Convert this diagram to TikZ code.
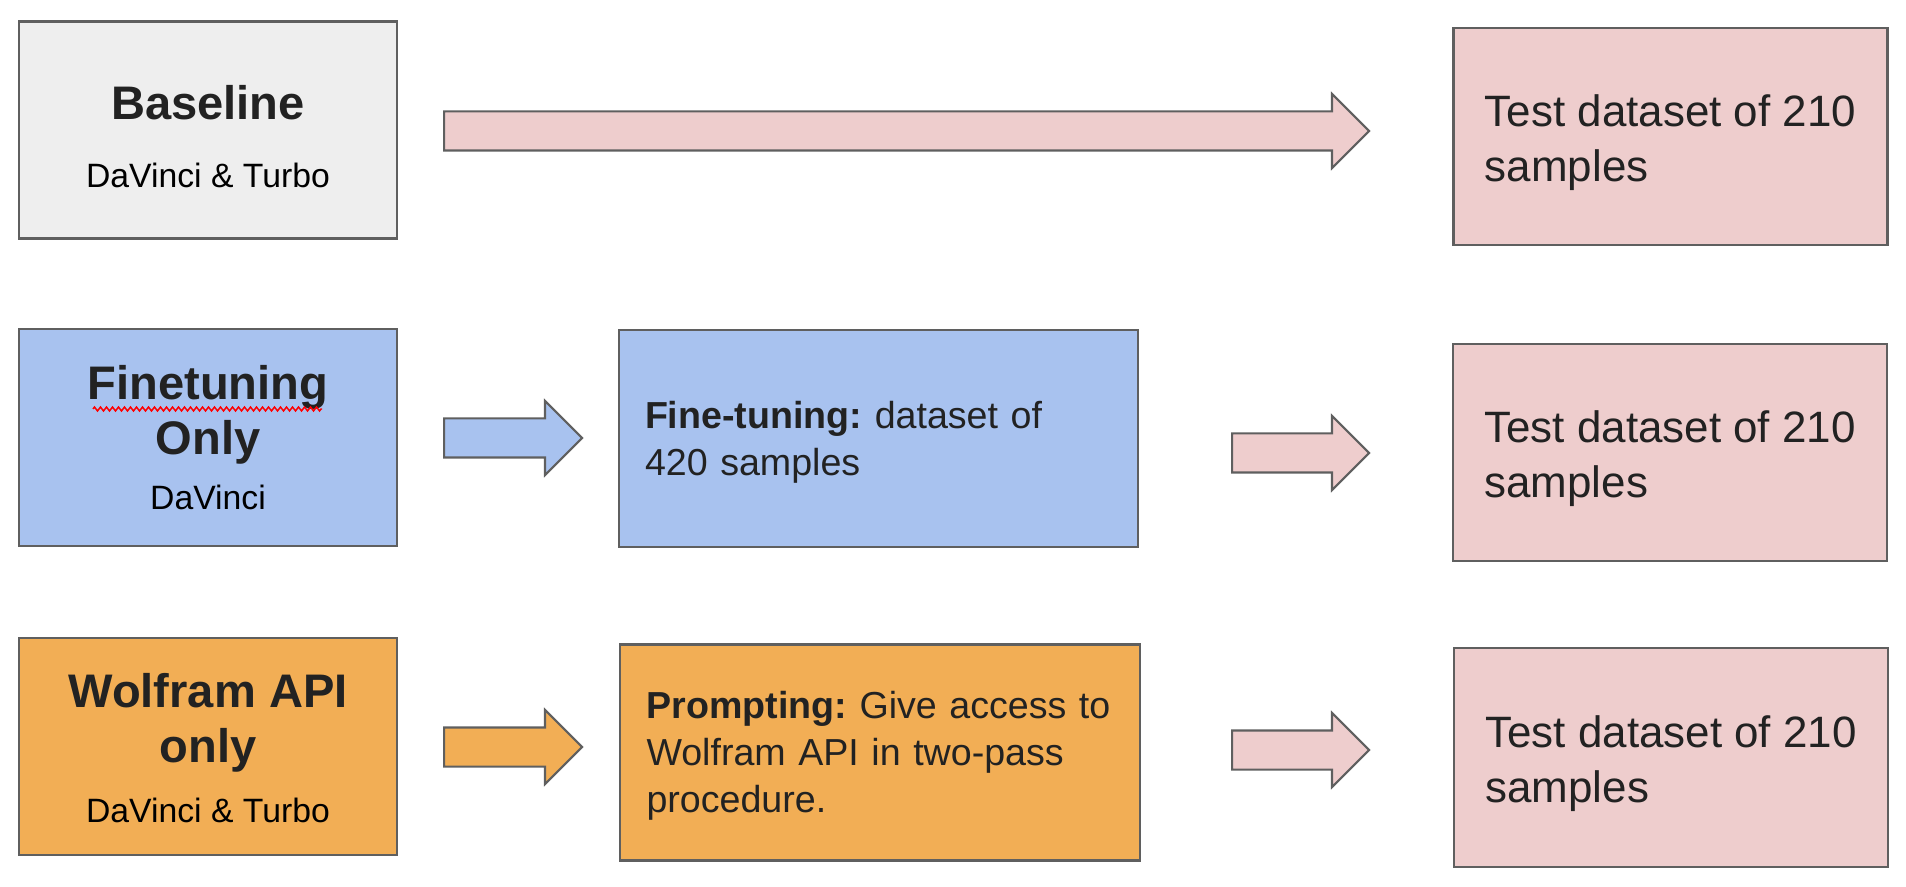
\documentclass[tikz,border=0pt]{standalone}
\usepackage{fontspec}
\setmainfont{Liberation Sans}
\usetikzlibrary{shapes.arrows,decorations.pathmorphing}

\definecolor{greybox}{HTML}{EEEEEE}
\definecolor{bluebox}{HTML}{A8C2EF}
\definecolor{orangebox}{HTML}{F2AE55}
\definecolor{pinkbox}{HTML}{EECDCD}
\definecolor{edgegrey}{HTML}{5F5F5F}
\definecolor{inkgrey}{HTML}{222222}

\newcommand{\testlabel}{\rule{0pt}{0.44cm}Test dataset of 210\\samples}

\begin{document}
\begin{tikzpicture}[line width=0.6pt,
                main node/.style={rectangle, draw=edgegrey, minimum width=3.78cm, minimum height=2.17cm, align=center, text=inkgrey, font=\fontsize{13.4}{15.6}\selectfont\bfseries},
                data node/.style={rectangle, draw=edgegrey, minimum width=5.2cm, minimum height=2.16cm, text width=4.67cm, align=left, text=inkgrey, font=\fontsize{10.7}{13.4}\selectfont\frenchspacing, execute at begin node={\rule{0pt}{0.34cm}}},
                test node/.style={rectangle, draw=edgegrey, fill=pinkbox, minimum width=4.34cm, minimum height=2.17cm, align=left, text=inkgrey, font=\fontsize{12.5}{15.6}\selectfont},
                flow arrow/.style={single arrow, draw=edgegrey, anchor=tail, inner xsep=0pt, inner ysep=0.185cm, single arrow head extend=0.175cm, minimum height=#1}]

            \useasboundingbox (0,0) rectangle (19.06,8.86);

            \node[main node, fill=greybox] (base) at (2.08,7.56) {\rule{0pt}{0.48cm}Baseline\\[3.7pt]{\fontsize{9.6}{15.6}\selectfont\mdseries\color{black}DaVinci \& Turbo}};
            \node[main node, fill=bluebox] (finetune) at (2.08,4.485) {Finetuning\\Only\\{\fontsize{9.6}{15.6}\selectfont\mdseries\color{black}DaVinci}};
            \node[main node, fill=orangebox] (wolfram) at (2.08,1.395) {\rule{0pt}{0.38cm}Wolfram API\\only\\[1.5pt]{\fontsize{9.6}{15.6}\selectfont\mdseries\color{black}DaVinci \& Turbo}};

            \node[data node, fill=bluebox, minimum width=5.19cm, minimum height=2.17cm] (trainset) at (8.785,4.475) {\textbf{Fine-tuning:} dataset of\\420 samples};
            \node[data node, fill=orangebox] (prompting) at (8.80,1.335) {\textbf{Prompting:} Give access to\\Wolfram API in two-pass\\procedure.};

            \node[test node] (test1) at (16.705,7.495) {\testlabel};
            \node[test node] (test2) at (16.70,4.335) {\testlabel};
            \node[test node, minimum height=2.19cm] (test3) at (16.71,1.285) {\testlabel};

            \node[flow arrow=9.25cm, fill=pinkbox] (arr0) at (4.43,7.55) {};
            \node[flow arrow=1.38cm, fill=bluebox] (arr1) at (4.43,4.48) {};
            \node[flow arrow=1.37cm, fill=pinkbox] (arr2) at (12.31,4.33) {};
            \node[flow arrow=1.38cm, fill=orangebox] (arr3) at (4.43,1.39) {};
            \node[flow arrow=1.37cm, fill=pinkbox] (arr4) at (12.31,1.36) {};

            \draw[red, line width=0.4pt, decorate, decoration={zigzag, amplitude=0.2mm, segment length=0.6mm}] (0.93,4.77) -- (3.22,4.77);

        \end{tikzpicture}
\end{document}
